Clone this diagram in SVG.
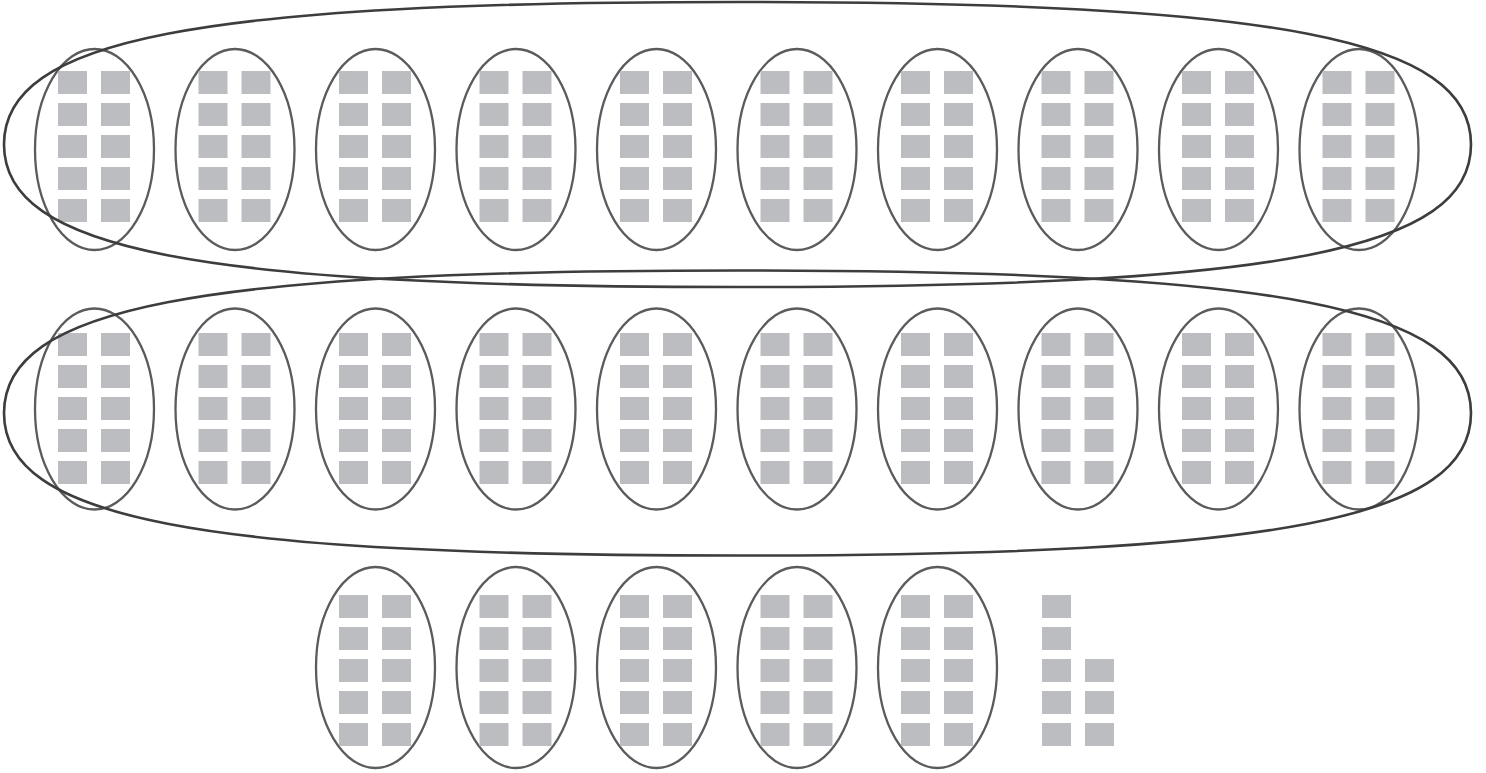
<svg xmlns="http://www.w3.org/2000/svg" xmlns:xlink="http://www.w3.org/1999/xlink" width="1486" height="773" viewBox="0 0 1486 773">
<style>
.sq{fill:#bcbdc0}
.el{fill:none;stroke:#5a5b5d;stroke-width:2.3}
.big{fill:none;stroke:#3d3d3d;stroke-width:2.6}
</style>
<defs>
<g id="grp">
<rect class="sq" x="0" y="0" width="29" height="23"/><rect class="sq" x="43" y="0" width="29" height="23"/>
<rect class="sq" x="0" y="32" width="29" height="23"/><rect class="sq" x="43" y="32" width="29" height="23"/>
<rect class="sq" x="0" y="64" width="29" height="23"/><rect class="sq" x="43" y="64" width="29" height="23"/>
<rect class="sq" x="0" y="96" width="29" height="23"/><rect class="sq" x="43" y="96" width="29" height="23"/>
<rect class="sq" x="0" y="128" width="29" height="23"/><rect class="sq" x="43" y="128" width="29" height="23"/>
</g>
</defs>
<g id="row1">
<g id="r1n0"><ellipse class="el" cx="94.5" cy="149.5" rx="59.5" ry="100.5"/><use href="#grp" x="58" y="71"/></g>
<g id="r1n1"><ellipse class="el" cx="235" cy="149.5" rx="59.5" ry="100.5"/><use href="#grp" x="198.5" y="71"/></g>
<g id="r1n2"><ellipse class="el" cx="375.5" cy="149.5" rx="59.5" ry="100.5"/><use href="#grp" x="339" y="71"/></g>
<g id="r1n3"><ellipse class="el" cx="516" cy="149.5" rx="59.5" ry="100.5"/><use href="#grp" x="479.5" y="71"/></g>
<g id="r1n4"><ellipse class="el" cx="656.5" cy="149.5" rx="59.5" ry="100.5"/><use href="#grp" x="620" y="71"/></g>
<g id="r1n5"><ellipse class="el" cx="797" cy="149.5" rx="59.5" ry="100.5"/><use href="#grp" x="760.5" y="71"/></g>
<g id="r1n6"><ellipse class="el" cx="937.5" cy="149.5" rx="59.5" ry="100.5"/><use href="#grp" x="901" y="71"/></g>
<g id="r1n7"><ellipse class="el" cx="1078" cy="149.5" rx="59.5" ry="100.5"/><use href="#grp" x="1041.5" y="71"/></g>
<g id="r1n8"><ellipse class="el" cx="1218.5" cy="149.5" rx="59.5" ry="100.5"/><use href="#grp" x="1182" y="71"/></g>
<g id="r1n9"><ellipse class="el" cx="1359" cy="149.5" rx="59.5" ry="100.5"/><use href="#grp" x="1322.5" y="71"/></g>
<path id="big1" class="big" d="M1471,144.5 C1471,249.8 1279.6,287 737.5,287 C195.4,287 4,249.8 4,144.5 C4,39.2 195.4,2 737.5,2 C1279.6,2 1471,39.2 1471,144.5 Z"/>
</g>
<g id="row2">
<g id="r2n0"><ellipse class="el" cx="94.5" cy="409" rx="59.5" ry="100.5"/><use href="#grp" x="58" y="333"/></g>
<g id="r2n1"><ellipse class="el" cx="235" cy="409" rx="59.5" ry="100.5"/><use href="#grp" x="198.5" y="333"/></g>
<g id="r2n2"><ellipse class="el" cx="375.5" cy="409" rx="59.5" ry="100.5"/><use href="#grp" x="339" y="333"/></g>
<g id="r2n3"><ellipse class="el" cx="516" cy="409" rx="59.5" ry="100.5"/><use href="#grp" x="479.5" y="333"/></g>
<g id="r2n4"><ellipse class="el" cx="656.5" cy="409" rx="59.5" ry="100.5"/><use href="#grp" x="620" y="333"/></g>
<g id="r2n5"><ellipse class="el" cx="797" cy="409" rx="59.5" ry="100.5"/><use href="#grp" x="760.5" y="333"/></g>
<g id="r2n6"><ellipse class="el" cx="937.5" cy="409" rx="59.5" ry="100.5"/><use href="#grp" x="901" y="333"/></g>
<g id="r2n7"><ellipse class="el" cx="1078" cy="409" rx="59.5" ry="100.5"/><use href="#grp" x="1041.5" y="333"/></g>
<g id="r2n8"><ellipse class="el" cx="1218.5" cy="409" rx="59.5" ry="100.5"/><use href="#grp" x="1182" y="333"/></g>
<g id="r2n9"><ellipse class="el" cx="1359" cy="409" rx="59.5" ry="100.5"/><use href="#grp" x="1322.5" y="333"/></g>
<path id="big2" class="big" d="M1471,413 C1471,518.3 1279.6,555.5 737.5,555.5 C195.4,555.5 4,518.3 4,413 C4,307.7 195.4,270.5 737.5,270.5 C1279.6,270.5 1471,307.7 1471,413 Z"/>
</g>
<g id="row3">
<g id="r3n2"><ellipse class="el" cx="375.5" cy="667.5" rx="59.5" ry="100.5"/><use href="#grp" x="339" y="595"/></g>
<g id="r3n3"><ellipse class="el" cx="516" cy="667.5" rx="59.5" ry="100.5"/><use href="#grp" x="479.5" y="595"/></g>
<g id="r3n4"><ellipse class="el" cx="656.5" cy="667.5" rx="59.5" ry="100.5"/><use href="#grp" x="620" y="595"/></g>
<g id="r3n5"><ellipse class="el" cx="797" cy="667.5" rx="59.5" ry="100.5"/><use href="#grp" x="760.5" y="595"/></g>
<g id="r3n6"><ellipse class="el" cx="937.5" cy="667.5" rx="59.5" ry="100.5"/><use href="#grp" x="901" y="595"/></g>
<g id="r3rest">
<rect class="sq" x="1042" y="595" width="29" height="23"/>
<rect class="sq" x="1042" y="627" width="29" height="23"/>
<rect class="sq" x="1042" y="659" width="29" height="23"/><rect class="sq" x="1085" y="659" width="29" height="23"/>
<rect class="sq" x="1042" y="691" width="29" height="23"/><rect class="sq" x="1085" y="691" width="29" height="23"/>
<rect class="sq" x="1042" y="723" width="29" height="23"/><rect class="sq" x="1085" y="723" width="29" height="23"/>
</g>
</g>
</svg>
